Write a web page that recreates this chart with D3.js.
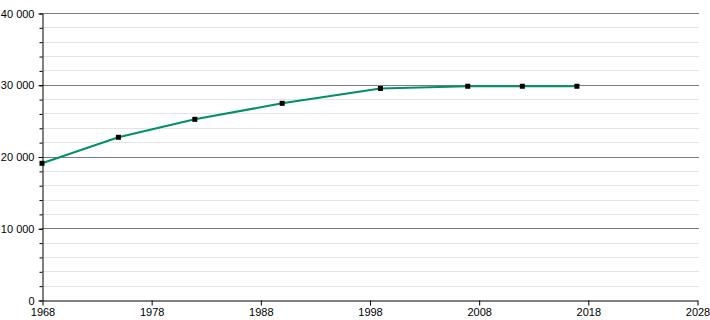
<!DOCTYPE html>
<html>
<head>
<meta charset="utf-8">
<script src="https://cdn.jsdelivr.net/npm/d3@7"></script>
<style>
  body { margin: 0; background: #fff; }
  .chart text { font-family: "Liberation Sans", Arial, sans-serif; font-size: 11px; fill: #000; }
</style>
</head>
<body>
<div class="chart"></div>
<script>
// data
const years = [1968, 1975, 1982, 1990, 1999, 2007, 2012, 2017]
const population = [19050, 22680, 25180, 27410, 29480, 29790, 29790, 29790]
const xTicks = [1968, 1978, 1988, 1998, 2008, 2018, 2028]
const yMajorTicks = [0, 10000, 20000, 30000, 40000]
const yMinorTicks = d3.range(0, 40001, 2000)

const width = 710, height = 320
const mLeft = 42, mRight = 697, mTop = 13, mBottom = 300

const svg = d3.select('.chart').append('svg')
    .attr('width', width)
    .attr('height', height)

const x = d3.scaleLinear().domain([1968, 2028]).range([mLeft, mRight])
const y = d3.scaleLinear().domain([0, 40000]).range([mBottom, mTop])

const fmt = v => d3.format(',')(v).replace(/,/g, ' ')

// minor gridlines
svg.append('g')
    .selectAll('line')
    .data(yMinorTicks.filter(v => v % 10000 !== 0))
    .join('line')
    .attr('x1', mLeft).attr('x2', mRight + 2)
    .attr('y1', d => Math.round(y(d)) + 0.5).attr('y2', d => Math.round(y(d)) + 0.5)
    .attr('stroke', '#e4e4e4')

// major gridlines
svg.append('g')
    .selectAll('line')
    .data(yMajorTicks.filter(v => v > 0))
    .join('line')
    .attr('x1', mLeft).attr('x2', mRight + 2)
    .attr('y1', d => Math.round(y(d)) + 0.5).attr('y2', d => Math.round(y(d)) + 0.5)
    .attr('stroke', '#7a7a7a')

// y axis minor ticks
svg.append('g')
    .attr('transform', `translate(${mLeft + 0.5},0.5)`)
    .call(d3.axisLeft(y).tickValues(yMinorTicks).tickSize(3).tickFormat(''))
    .call(g => g.select('.domain').remove())

// y axis
const yAxis = svg.append('g')
    .attr('transform', `translate(${mLeft + 0.5},0.5)`)
    .call(d3.axisLeft(y).tickValues(yMajorTicks).tickSize(4).tickSizeOuter(0).tickFormat(fmt).tickPadding(4))
yAxis.select('.domain').attr('stroke', '#000')

// x axis
const xAxis = svg.append('g')
    .attr('transform', `translate(0.5,${mBottom + 0.5})`)
    .call(d3.axisBottom(x).tickValues(xTicks).tickSize(5).tickSizeOuter(0).tickFormat(d3.format('d')).tickPadding(3))

svg.selectAll('.tick text').style('font-family', '"Liberation Sans", Arial, sans-serif').style('font-size', '11px')

// line
const points = years.map((yr, i) => ({ year: yr, value: population[i] }))
svg.append('path')
    .datum(points)
    .attr('fill', 'none')
    .attr('stroke', '#008f68')
    .attr('stroke-width', 2)
    .attr('d', d3.line().x(d => x(d.year)).y(d => y(d.value)))

// markers
svg.append('g')
    .selectAll('rect')
    .data(points)
    .join('rect')
    .attr('x', d => x(d.year) - 2.5)
    .attr('y', d => y(d.value) - 2.5)
    .attr('width', 5)
    .attr('height', 5)
    .attr('fill', '#000')
</script>
</body>
</html>
